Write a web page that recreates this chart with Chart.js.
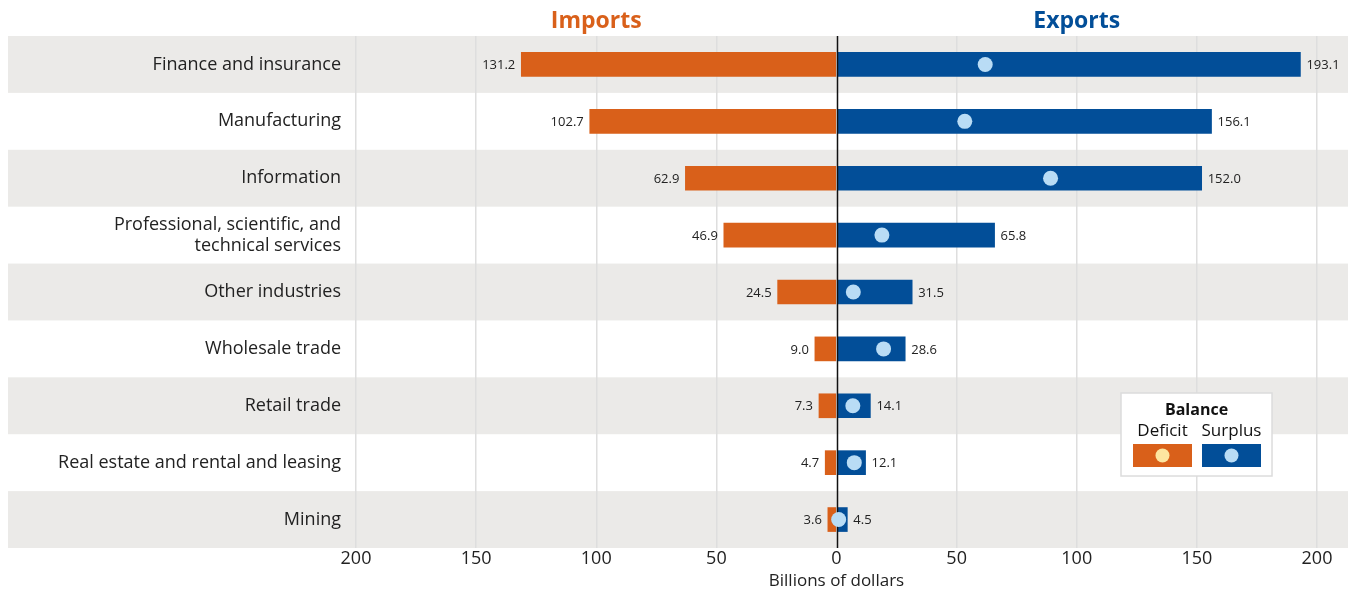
<!DOCTYPE html>
<html>
<head>
<meta charset="utf-8">
<title>Services trade by industry</title>
<script src="https://cdn.jsdelivr.net/npm/chart.js@4"></script>
<style>
  html, body { margin: 0; padding: 0; background: #fff; }
  #wrap { position: relative; width: 1351px; height: 593px; }
</style>
</head>
<body>
<div id="wrap"><canvas id="chart"></canvas></div>
<script>
// industries, top to bottom
const categories = [
    "Finance and insurance",
    "Manufacturing",
    "Information",
    ["Professional, scientific, and", "technical services"],
    "Other industries",
    "Wholesale trade",
    "Retail trade",
    "Real estate and rental and leasing",
    "Mining"
];
// billions of dollars
const imports = [131.2, 102.7, 62.9, 46.9, 24.5, 9.0, 7.3, 4.7, 3.6];
const exports = [193.1, 156.1, 152.0, 65.8, 31.5, 28.6, 14.1, 12.1, 4.5];
const balance = [61.9, 53.4, 89.1, 18.9, 7.0, 19.6, 6.8, 7.4, 0.9];
const xTicks = [-200, -150, -100, -50, 0, 50, 100, 150, 200];

const ORANGE = "#d9601a";
const BLUE = "#024e98";
const DOT_SURPLUS = "#b9dcf5";
const DOT_DEFICIT = "#fde6a0";
const BAND = "#ebeae8";
const FONT = "'Open Sans', sans-serif";

// grey stripes behind every other row
const bandsPlugin = {
    id: "bands",
    beforeDraw(chart) {
        const { ctx, scales: { y } } = chart;
        const step = y.getPixelForValue(1) - y.getPixelForValue(0);
        ctx.save();
        ctx.fillStyle = BAND;
        categories.forEach((c, i) => {
            if (i % 2) return;
            const cy = y.getPixelForValue(i);
            ctx.fillRect(8, cy - step / 2, 1340, step);
        });
        ctx.restore();
    }
};

// zero line goes on top of the bars but under the balance dots
const zeroLinePlugin = {
    id: "zeroLine",
    beforeDatasetDraw(chart, args) {
        if (args.index !== 2) return;
        const { ctx, chartArea, scales: { x } } = chart;
        const px = Math.round(x.getPixelForValue(0)) + 0.5;
        ctx.save();
        ctx.strokeStyle = "#111";
        ctx.lineWidth = 1.5;
        ctx.beginPath();
        ctx.moveTo(px, chartArea.top);
        ctx.lineTo(px, chartArea.bottom);
        ctx.stroke();
        ctx.restore();
    }
};

// value labels at bar ends, side headings, legend box
const annotatePlugin = {
    id: "annotate",
    afterDraw(chart) {
        const { ctx, scales: { x } } = chart;
        ctx.save();
        ctx.font = "13px " + FONT;
        ctx.fillStyle = "#222";
        ctx.textBaseline = "middle";
        const impMeta = chart.getDatasetMeta(0);
        const expMeta = chart.getDatasetMeta(1);
        impMeta.data.forEach((bar, i) => {
            ctx.textAlign = "right";
            ctx.fillText(imports[i].toFixed(1), bar.x - 6, bar.y + 1);
        });
        expMeta.data.forEach((bar, i) => {
            ctx.textAlign = "left";
            ctx.fillText(exports[i].toFixed(1), bar.x + 6, bar.y + 1);
        });

        // headings over each half
        ctx.font = "bold 23px " + FONT;
        ctx.textAlign = "center";
        ctx.fillStyle = ORANGE;
        ctx.fillText("Imports", (x.getPixelForValue(-200) + x.getPixelForValue(0)) / 2, 21);
        ctx.fillStyle = BLUE;
        ctx.fillText("Exports", (x.getPixelForValue(0) + x.getPixelForValue(200)) / 2, 21);

        // legend
        const lx = 1121, ly = 393, lw = 151, lh = 83;
        ctx.fillStyle = "#fff";
        ctx.fillRect(lx, ly, lw, lh);
        ctx.strokeStyle = "#dcdcdc";
        ctx.lineWidth = 1.5;
        ctx.strokeRect(lx, ly, lw, lh);
        ctx.fillStyle = "#111";
        ctx.font = "bold 16px " + FONT;
        ctx.fillText("Balance", lx + lw / 2, ly + 17);
        ctx.font = "17px " + FONT;
        const swatches = [
            { label: "Deficit", fill: ORANGE, dot: DOT_DEFICIT, x: 1133 },
            { label: "Surplus", fill: BLUE, dot: DOT_SURPLUS, x: 1202 }
        ];
        swatches.forEach(s => {
            ctx.fillStyle = "#111";
            ctx.fillText(s.label, s.x + 29.5, ly + 38);
            ctx.fillStyle = s.fill;
            ctx.fillRect(s.x, 444, 59, 23);
            ctx.fillStyle = s.dot;
            ctx.beginPath();
            ctx.arc(s.x + 29.5, 455.5, 7, 0, Math.PI * 2);
            ctx.fill();
        });
        ctx.restore();
    }
};

new Chart(document.getElementById("chart"), {
    type: "bar",
    data: {
        labels: categories,
        datasets: [
            {
                label: "Imports",
                data: imports.map(v => -v),
                backgroundColor: ORANGE,
                grouped: false,
                barThickness: 24,
                order: 1
            },
            {
                label: "Exports",
                data: exports,
                backgroundColor: BLUE,
                grouped: false,
                barThickness: 24,
                order: 1
            },
            {
                type: "line",
                label: "Balance",
                data: balance,
                showLine: false,
                pointRadius: 7.5,
                pointHoverRadius: 7.5,
                pointBorderWidth: 0,
                pointBackgroundColor: balance.map(v => v < 0 ? DOT_DEFICIT : DOT_SURPLUS),
                order: -1
            }
        ]
    },
    options: {
        indexAxis: "y",
        responsive: true,
        maintainAspectRatio: false,
        animation: false,
        layout: { padding: { top: 36, right: 34, left: 0, bottom: 0 } },
        plugins: {
            legend: { display: false },
            tooltip: { enabled: false }
        },
        scales: {
            x: {
                type: "linear",
                min: -200,
                max: 200,
                afterBuildTicks(scale) {
                    scale.ticks = xTicks.map(v => ({ value: v }));
                },
                afterFit(scale) { scale.height = 45; },
                ticks: {
                    callback: v => Math.abs(v),
                    color: "#222",
                    font: { family: FONT, size: 18 },
                    padding: 0,
                    maxRotation: 0
                },
                grid: {
                    color: ctx => ctx.tick && ctx.tick.value === 0 ? "rgba(0,0,0,0)" : "#dedede",
                    lineWidth: 1.5,
                    drawTicks: false
                },
                border: { display: false },
                title: {
                    display: true,
                    text: "Billions of dollars",
                    color: "#222",
                    font: { family: FONT, size: 17 },
                    padding: { top: 0, bottom: 2 }
                }
            },
            y: {
                afterFit(scale) { scale.width = 356; },
                ticks: {
                    color: "#222",
                    font: { family: FONT, size: 18, lineHeight: 1.15 },
                    padding: 7
                },
                grid: { display: false },
                border: { display: false }
            }
        }
    },
    plugins: [bandsPlugin, zeroLinePlugin, annotatePlugin]
});
</script>
</body>
</html>
